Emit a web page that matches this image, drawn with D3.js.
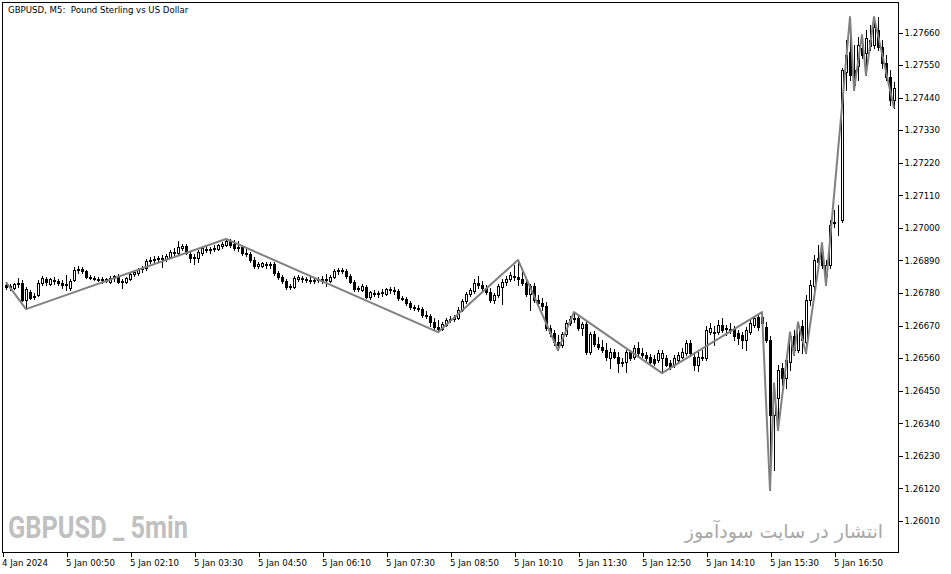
<!DOCTYPE html>
<html><head><meta charset="utf-8">
<script src="https://cdn.jsdelivr.net/npm/d3@7"></script>
<style>body{margin:0;background:#fff}svg{display:block}</style>
</head><body><svg id="c" width="951" height="574"></svg>
<script>
const open=[1.26805,1.26799,1.26795,1.26809,1.26812,1.26755,1.26782,1.26765,1.26771,1.26812,1.26826,1.26809,1.26822,1.26819,1.26812,1.26805,1.26795,1.26822,1.26856,1.26859,1.26853,1.26832,1.26829,1.26826,1.26822,1.26826,1.26815,1.26829,1.26836,1.26815,1.26815,1.26826,1.26842,1.26846,1.26859,1.26863,1.26886,1.26890,1.26893,1.26896,1.26893,1.26900,1.26917,1.26913,1.26930,1.26937,1.26910,1.26896,1.26896,1.26913,1.26927,1.26924,1.26927,1.26927,1.26937,1.26940,1.26954,1.26944,1.26930,1.26934,1.26913,1.26910,1.26890,1.26869,1.26869,1.26876,1.26873,1.26876,1.26846,1.26832,1.26819,1.26799,1.26799,1.26826,1.26829,1.26826,1.26822,1.26819,1.26822,1.26826,1.26822,1.26819,1.26832,1.26853,1.26856,1.26853,1.26836,1.26815,1.26792,1.26788,1.26799,1.26765,1.26778,1.26775,1.26778,1.26775,1.26792,1.26788,1.26785,1.26761,1.26758,1.26745,1.26731,1.26728,1.26724,1.26704,1.26701,1.26680,1.26663,1.26657,1.26670,1.26687,1.26690,1.26694,1.26721,1.26751,1.26775,1.26785,1.26812,1.26805,1.26795,1.26782,1.26755,1.26771,1.26799,1.26815,1.26826,1.26836,1.26832,1.26826,1.26812,1.26775,1.26802,1.26755,1.26745,1.26734,1.26660,1.26643,1.26613,1.26603,1.26640,1.26677,1.26690,1.26694,1.26660,1.26674,1.26579,1.26640,1.26606,1.26596,1.26586,1.26559,1.26579,1.26562,1.26542,1.26545,1.26579,1.26562,1.26592,1.26576,1.26569,1.26562,1.26555,1.26552,1.26559,1.26559,1.26542,1.26535,1.26552,1.26562,1.26576,1.26609,1.26562,1.26535,1.26559,1.26559,1.26646,1.26646,1.26646,1.26670,1.26660,1.26657,1.26657,1.26643,1.26636,1.26619,1.26646,1.26670,1.26697,1.26677,1.26663,1.26619,1.26366,1.26424,1.26525,1.26491,1.26545,1.26633,1.26586,1.26667,1.26613,1.26755,1.26802,1.26896,1.26917,1.26836,1.26873,1.27015,1.27018,1.27025,1.27525,1.27592,1.27532,1.27545,1.27606,1.27589,1.27633,1.27616,1.27667,1.27609,1.27555,1.27508,1.27430];
const high=[1.26815,1.26809,1.26812,1.26829,1.26822,1.26799,1.26788,1.26778,1.26822,1.26836,1.26832,1.26829,1.26832,1.26826,1.26822,1.26839,1.26826,1.26866,1.26869,1.26866,1.26856,1.26839,1.26836,1.26832,1.26832,1.26829,1.26836,1.26839,1.26842,1.26826,1.26832,1.26846,1.26856,1.26863,1.26869,1.26893,1.26900,1.26903,1.26903,1.26907,1.26910,1.26924,1.26930,1.26954,1.26944,1.26944,1.26917,1.26910,1.26924,1.26937,1.26937,1.26934,1.26940,1.26944,1.26951,1.26961,1.26961,1.26957,1.26954,1.26940,1.26927,1.26917,1.26900,1.26883,1.26883,1.26883,1.26883,1.26883,1.26853,1.26839,1.26826,1.26809,1.26836,1.26839,1.26836,1.26832,1.26832,1.26829,1.26832,1.26836,1.26842,1.26839,1.26859,1.26863,1.26863,1.26859,1.26842,1.26822,1.26802,1.26809,1.26805,1.26785,1.26788,1.26785,1.26792,1.26795,1.26799,1.26799,1.26792,1.26768,1.26765,1.26751,1.26738,1.26738,1.26731,1.26717,1.26707,1.26694,1.26687,1.26680,1.26694,1.26701,1.26704,1.26731,1.26758,1.26782,1.26795,1.26826,1.26836,1.26819,1.26805,1.26795,1.26778,1.26809,1.26826,1.26836,1.26849,1.26873,1.26890,1.26863,1.26826,1.26809,1.26812,1.26771,1.26761,1.26748,1.26670,1.26653,1.26636,1.26646,1.26687,1.26701,1.26714,1.26704,1.26680,1.26684,1.26646,1.26650,1.26630,1.26619,1.26609,1.26592,1.26589,1.26579,1.26559,1.26586,1.26586,1.26603,1.26613,1.26592,1.26579,1.26572,1.26569,1.26586,1.26586,1.26569,1.26552,1.26569,1.26579,1.26592,1.26619,1.26619,1.26579,1.26579,1.26586,1.26667,1.26677,1.26667,1.26687,1.26694,1.26670,1.26677,1.26667,1.26653,1.26646,1.26663,1.26687,1.26701,1.26707,1.26714,1.26680,1.26633,1.26474,1.26535,1.26542,1.26569,1.26646,1.26653,1.26680,1.26687,1.26771,1.26822,1.26907,1.26940,1.26947,1.26890,1.27025,1.27059,1.27076,1.27538,1.27633,1.27711,1.27616,1.27643,1.27650,1.27667,1.27684,1.27711,1.27711,1.27633,1.27582,1.27532,1.27491];
const low=[1.26792,1.26788,1.26792,1.26799,1.26751,1.26724,1.26758,1.26758,1.26768,1.26805,1.26805,1.26805,1.26809,1.26805,1.26795,1.26788,1.26788,1.26819,1.26846,1.26846,1.26829,1.26826,1.26822,1.26819,1.26812,1.26815,1.26812,1.26819,1.26812,1.26795,1.26812,1.26822,1.26836,1.26839,1.26849,1.26856,1.26879,1.26883,1.26883,1.26866,1.26886,1.26896,1.26907,1.26910,1.26924,1.26910,1.26883,1.26876,1.26883,1.26907,1.26917,1.26913,1.26920,1.26924,1.26930,1.26937,1.26934,1.26924,1.26920,1.26907,1.26903,1.26883,1.26863,1.26863,1.26866,1.26863,1.26863,1.26839,1.26826,1.26812,1.26792,1.26792,1.26795,1.26819,1.26815,1.26815,1.26812,1.26812,1.26815,1.26812,1.26802,1.26815,1.26829,1.26842,1.26846,1.26829,1.26812,1.26785,1.26785,1.26785,1.26761,1.26758,1.26768,1.26765,1.26768,1.26771,1.26778,1.26775,1.26755,1.26755,1.26738,1.26724,1.26721,1.26717,1.26697,1.26694,1.26667,1.26657,1.26646,1.26653,1.26667,1.26680,1.26684,1.26690,1.26717,1.26745,1.26768,1.26778,1.26795,1.26788,1.26775,1.26748,1.26745,1.26765,1.26741,1.26805,1.26819,1.26822,1.26805,1.26805,1.26768,1.26721,1.26748,1.26738,1.26721,1.26653,1.26633,1.26603,1.26586,1.26596,1.26633,1.26670,1.26680,1.26653,1.26636,1.26572,1.26572,1.26599,1.26589,1.26579,1.26552,1.26525,1.26559,1.26511,1.26532,1.26511,1.26552,1.26555,1.26569,1.26562,1.26552,1.26542,1.26535,1.26545,1.26508,1.26532,1.26522,1.26528,1.26545,1.26559,1.26569,1.26565,1.26518,1.26515,1.26552,1.26552,1.26640,1.26603,1.26640,1.26646,1.26636,1.26643,1.26619,1.26606,1.26592,1.26586,1.26640,1.26663,1.26653,1.26670,1.26613,1.26113,1.26180,1.26315,1.26467,1.26457,1.26518,1.26569,1.26579,1.26576,1.26576,1.26738,1.26788,1.26863,1.26863,1.26805,1.26863,1.27001,1.26974,1.27018,1.27464,1.27498,1.27464,1.27498,1.27572,1.27515,1.27599,1.27606,1.27599,1.27538,1.27498,1.27413,1.27403];
const close=[1.26799,1.26802,1.26809,1.26812,1.26755,1.26792,1.26761,1.26768,1.26812,1.26829,1.26815,1.26826,1.26819,1.26812,1.26805,1.26809,1.26819,1.26856,1.26859,1.26853,1.26832,1.26829,1.26826,1.26822,1.26826,1.26819,1.26829,1.26836,1.26815,1.26819,1.26829,1.26842,1.26849,1.26859,1.26863,1.26886,1.26890,1.26893,1.26896,1.26893,1.26903,1.26917,1.26913,1.26934,1.26937,1.26913,1.26896,1.26900,1.26917,1.26930,1.26924,1.26927,1.26930,1.26940,1.26944,1.26954,1.26940,1.26930,1.26934,1.26913,1.26910,1.26890,1.26869,1.26876,1.26879,1.26873,1.26876,1.26846,1.26832,1.26819,1.26799,1.26802,1.26829,1.26832,1.26826,1.26822,1.26819,1.26822,1.26826,1.26822,1.26826,1.26832,1.26853,1.26856,1.26853,1.26836,1.26815,1.26792,1.26795,1.26802,1.26765,1.26782,1.26775,1.26778,1.26782,1.26792,1.26788,1.26785,1.26761,1.26758,1.26745,1.26731,1.26728,1.26724,1.26704,1.26701,1.26680,1.26663,1.26657,1.26674,1.26687,1.26690,1.26697,1.26721,1.26751,1.26775,1.26788,1.26812,1.26805,1.26795,1.26782,1.26755,1.26771,1.26802,1.26815,1.26826,1.26839,1.26832,1.26826,1.26812,1.26775,1.26802,1.26755,1.26745,1.26734,1.26660,1.26643,1.26613,1.26603,1.26640,1.26677,1.26690,1.26694,1.26660,1.26674,1.26579,1.26640,1.26606,1.26596,1.26586,1.26562,1.26579,1.26562,1.26542,1.26545,1.26579,1.26559,1.26592,1.26576,1.26569,1.26559,1.26545,1.26542,1.26576,1.26576,1.26535,1.26528,1.26559,1.26569,1.26579,1.26609,1.26576,1.26535,1.26562,1.26562,1.26653,1.26660,1.26643,1.26670,1.26653,1.26657,1.26653,1.26633,1.26626,1.26619,1.26653,1.26677,1.26694,1.26663,1.26697,1.26619,1.26366,1.26434,1.26518,1.26491,1.26552,1.26633,1.26586,1.26667,1.26619,1.26755,1.26805,1.26890,1.26883,1.26873,1.26873,1.27008,1.27018,1.27018,1.27532,1.27582,1.27515,1.27481,1.27616,1.27582,1.27639,1.27613,1.27677,1.27609,1.27555,1.27508,1.27430,1.27471];
// zigzag vertices: [bar index, price]
const zigIndex=[0,5,55,108,128,138,142,164,189,191,192,193,196,197,198,200,204,205,211,212,214,215,217,222];
const zigPrice=[1.26815,1.26724,1.26961,1.26646,1.26890,1.26586,1.26714,1.26508,1.26714,1.26113,1.26474,1.26315,1.26646,1.26569,1.26680,1.26576,1.26947,1.26805,1.27711,1.27464,1.27650,1.27515,1.27711,1.27403];
const priceTicks=[1.27660,1.27550,1.27440,1.27330,1.27220,1.27110,1.27000,1.26890,1.26780,1.26670,1.26560,1.26450,1.26340,1.26230,1.26120,1.26010];
const timeTickIndex=[-1,15,31,47,63,79,95,111,127,143,159,175,191,207];
const timeTickLabels=["4 Jan 2024","5 Jan 00:50","5 Jan 02:10","5 Jan 03:30","5 Jan 04:50","5 Jan 06:10","5 Jan 07:30","5 Jan 08:50","5 Jan 10:10","5 Jan 11:30","5 Jan 12:50","5 Jan 14:10","5 Jan 15:30","5 Jan 16:50"];
const titleText="GBPUSD, M5:  Pound Sterling vs US Dollar";
const watermarkLeft="GBPUSD _ 5min";
const watermarkRight="انتشار در سایت سودآموز";

const W=951,H=574;
const FONT="'DejaVu Sans', Verdana, sans-serif";
const svg=d3.select('#c');
svg.append('rect').attr('width',W).attr('height',H).attr('fill','#fff');

const x=d3.scaleLinear().domain([0,222]).range([6,894]);
const y=d3.scaleLinear().domain([1.26010,1.27660]).range([520.5,32]);

// watermarks (behind)
svg.append('text').attr('x',8).attr('y',538).text(watermarkLeft)
  .attr('font-family',"'Liberation Sans Narrow','Roboto',sans-serif").attr('font-weight','bold')
  .attr('font-size',31).attr('fill','#c0c0c0')
  .attr('textLength',180).attr('lengthAdjust','spacingAndGlyphs');
svg.append('text').attr('x',883).attr('y',538).text(watermarkRight)
  .attr('font-family',"'DejaVu Sans','Noto Sans',sans-serif")
  .attr('font-size',19).attr('fill','#a8a8a8').attr('text-anchor','end');

// title
svg.append('text').attr('x',8).attr('y',13).text(titleText)
  .attr('font-family',FONT).attr('font-size',8.6).attr('fill','#000')
  .style('white-space','pre');

// candles
const bars=d3.range(open.length);
const g=svg.append('g').attr('shape-rendering','crispEdges');
bars.forEach(i=>{
  const cx=Math.round(x(i));
  g.append('line').attr('x1',cx+0.5).attr('x2',cx+0.5)
    .attr('y1',Math.round(y(high[i]))).attr('y2',Math.round(y(low[i]))+1)
    .attr('stroke','#000').attr('stroke-width',1);
  const yo=Math.round(y(open[i])), yc=Math.round(y(close[i]));
  const top=Math.min(yo,yc), bot=Math.max(yo,yc);
  const bull=close[i]>=open[i];
  g.append('rect').attr('x',cx-0.5).attr('y',top+0.5).attr('width',2).attr('height',Math.max(bot-top,0))
    .attr('fill',bull?'#fff':'#000').attr('stroke','#000').attr('stroke-width',1);
});

// zigzag
const zz=zigIndex.map((d,k)=>[x(d),y(zigPrice[k])]);
svg.append('path').attr('d',d3.line()(zz)).attr('fill','none')
  .attr('stroke','#808080').attr('stroke-width',2).attr('stroke-linejoin','round');

// frame
svg.append('rect').attr('x',2.5).attr('y',2.5).attr('width',896).attr('height',550)
  .attr('fill','none').attr('stroke','#000').attr('shape-rendering','crispEdges');

// right axis
const ya=svg.append('g').attr('transform','translate(898.5,0.5)')
  .call(d3.axisRight(y).tickValues(priceTicks).tickSize(4).tickPadding(2).tickFormat(d3.format('.5f')));
ya.select('.domain').remove();
ya.selectAll('line').attr('stroke','#000').attr('shape-rendering','crispEdges');
ya.selectAll('text').attr('font-family',FONT).attr('font-size',8.6).attr('fill','#000');

// bottom axis
const xa=svg.append('g').attr('transform','translate(0.5,552.5)')
  .call(d3.axisBottom(x).tickValues(timeTickIndex).tickSize(4).tickPadding(3)
    .tickFormat((d,k)=>timeTickLabels[k]));
xa.select('.domain').remove();
xa.selectAll('line').attr('stroke','#000').attr('shape-rendering','crispEdges');
xa.selectAll('text').attr('font-family',FONT).attr('font-size',8.6).attr('fill','#000')
  .attr('text-anchor','start').attr('dx',-1);
</script></body></html>
